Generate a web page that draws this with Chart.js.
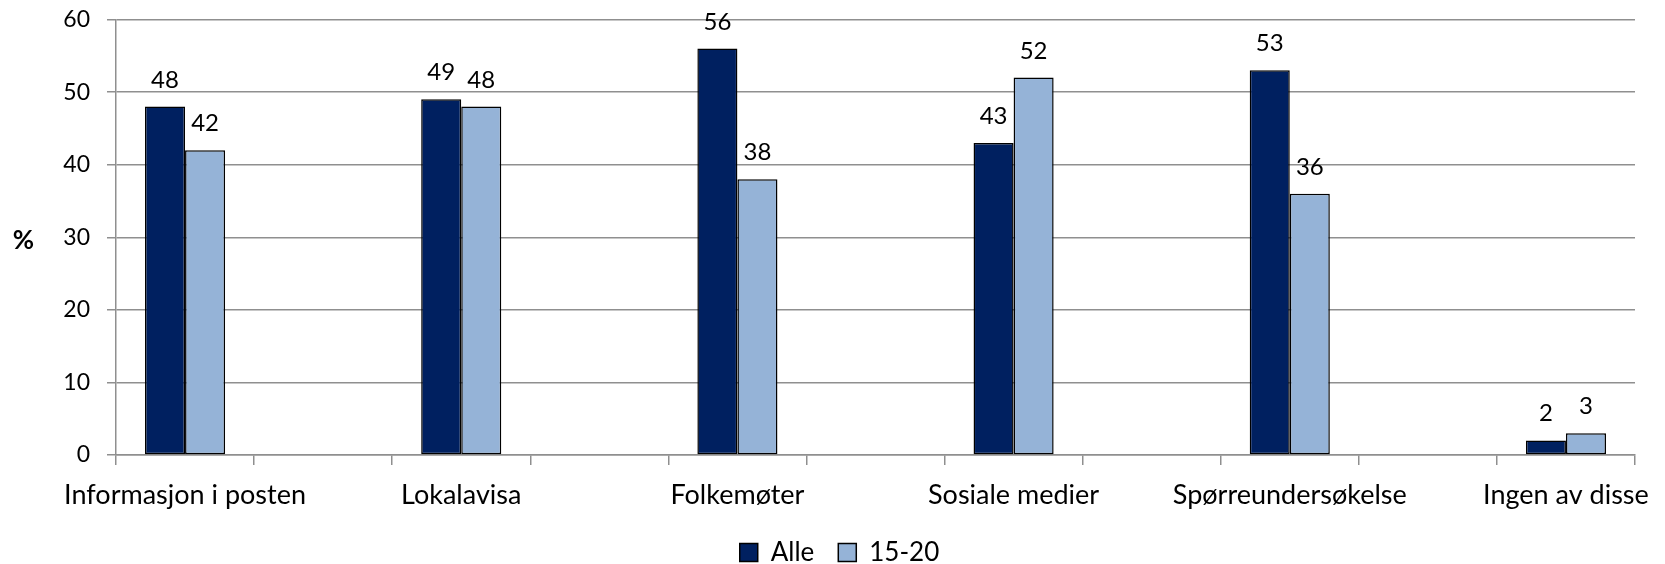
<!DOCTYPE html>
<html>
<head>
<meta charset="utf-8">
<script src="https://cdn.jsdelivr.net/npm/chart.js@4/dist/chart.umd.min.js"></script>
<style>
  html, body { margin: 0; padding: 0; background: #fff; }
  #wrap { width: 1665px; height: 564px; position: relative; }
</style>
</head>
<body>
<div id="wrap"><canvas id="c"></canvas></div>
<script>
// ---- data ----
const categories = ["Informasjon i posten", "Lokalavisa", "Folkemøter", "Sosiale medier", "Spørreundersøkelse", "Ingen av disse"];
const seriesNames = ["Alle", "15-20"];
const alleValues = [48, 49, 56, 43, 53, 2];
const youthValues = [42, 48, 38, 52, 36, 3];
const yTicks = [0, 10, 20, 30, 40, 50, 60];

// the original chart leaves an empty slot between every category
function spaced(arr, blank) {
  const out = [];
  arr.forEach((v, i) => { if (i > 0) out.push(blank); out.push(v); });
  return out;
}
const slotLabels = spaced(categories, "");
const slotAlle = spaced(alleValues, null);
const slotYouth = spaced(youthValues, null);

const FONT = "Lato, 'Open Sans', sans-serif";
const GRID = "#8f8f8f";

const valueLabels = {
  id: "valueLabels",
  afterDatasetsDraw(chart) {
    const ctx = chart.ctx;
    ctx.save();
    ctx.font = "24px " + FONT;
    ctx.fillStyle = "#000";
    ctx.textAlign = "center";
    ctx.textBaseline = "alphabetic";
    chart.data.datasets.forEach((ds, di) => {
      const meta = chart.getDatasetMeta(di);
      meta.data.forEach((bar, i) => {
        const v = ds.data[i];
        if (v === null || v === undefined) return;
        ctx.fillText(String(v), bar.x, bar.y - 19);
      });
    });
    ctx.restore();
  },
  afterDraw(chart) {
    const ctx = chart.ctx;
    ctx.save();
    ctx.font = "bold 26px " + FONT;
    ctx.fillStyle = "#000";
    ctx.textAlign = "center";
    ctx.textBaseline = "middle";
    const a = chart.chartArea;
    ctx.fillText("%", 23.5, (a.top + a.bottom) / 2 + 3);
    ctx.restore();
  }
};

new Chart(document.getElementById("c"), {
  type: "bar",
  data: {
    labels: slotLabels,
    datasets: [
      { label: seriesNames[0], data: slotAlle, backgroundColor: "#002060", borderColor: "#000", borderWidth: 1.5, borderSkipped: false },
      { label: seriesNames[1], data: slotYouth, backgroundColor: "#95B3D7", borderColor: "#000", borderWidth: 1.5, borderSkipped: false }
    ]
  },
  options: {
    responsive: true,
    maintainAspectRatio: false,
    animation: false,
    devicePixelRatio: 1,
    layout: { autoPadding: false, padding: { left: 44, right: 30, top: 19.5, bottom: -11.5 } },
    datasets: { bar: { categoryPercentage: 0.58, barPercentage: 1.0 } },
    plugins: {
      tooltip: { enabled: false },
      legend: {
        position: "bottom",
        labels: {
          boxWidth: 18,
          boxHeight: 18,
          padding: 24,
          color: "#000",
          font: { family: FONT, size: 26 }
        }
      }
    },
    scales: {
      x: {
        offset: true,
        grid: { offset: true, drawOnChartArea: false, drawTicks: true, tickLength: 10, color: GRID, lineWidth: 1.5 },
        border: { display: true, color: GRID, width: 1.5 },
        ticks: { autoSkip: false, maxRotation: 0, minRotation: 0, padding: 14, color: "#000", font: { family: FONT, size: 27 } },
        afterFit(scale) { scale.height = 60.5; }
      },
      y: {
        min: 0,
        max: 60,
        afterBuildTicks(scale) { scale.ticks = yTicks.map(v => ({ value: v })); },
        grid: { color: GRID, lineWidth: 1.5, drawTicks: true, tickLength: 9 },
        border: { display: true, color: GRID, width: 1.5 },
        ticks: { padding: 17, color: "#000", font: { family: FONT, size: 23, lineHeight: 0.2 } },
        afterFit(scale) { scale.width = 72; }
      }
    }
  },
  plugins: [valueLabels]
});
</script>
</body>
</html>
